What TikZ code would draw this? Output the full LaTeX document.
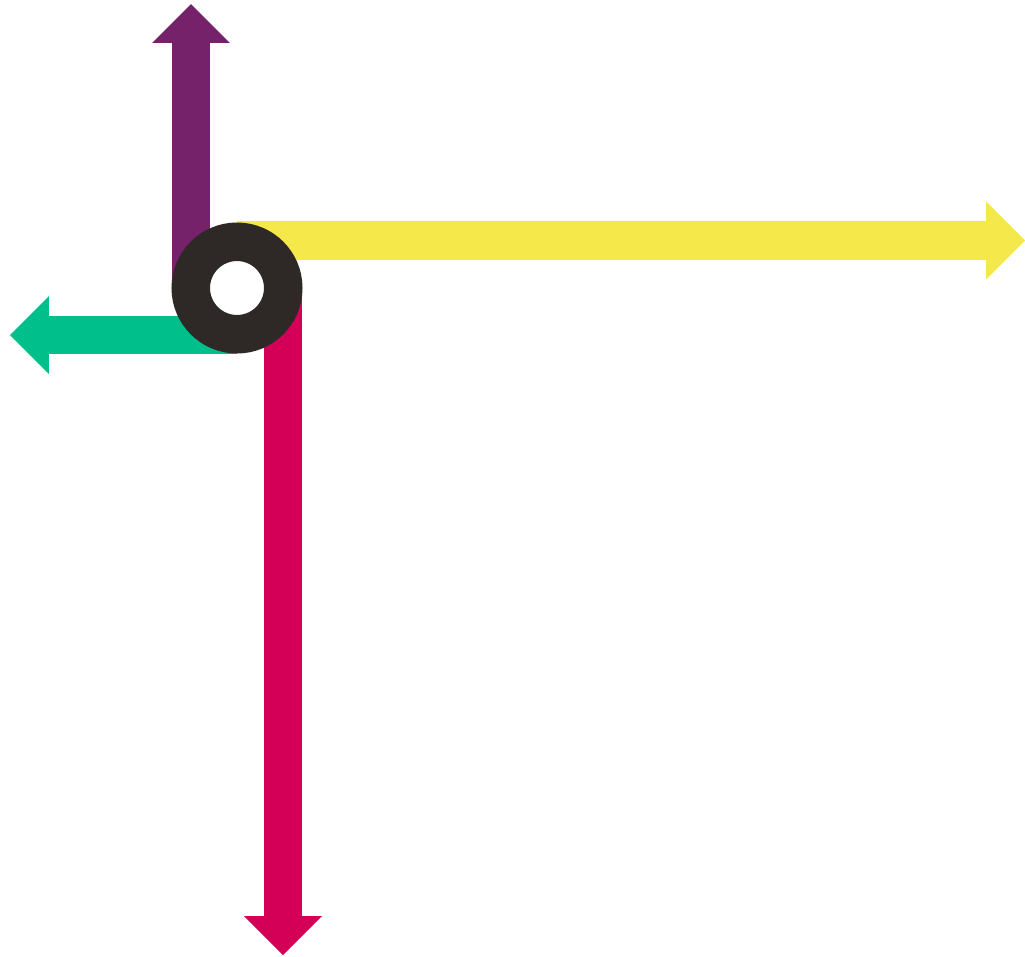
\documentclass[tikz,border=0pt]{standalone}
\usepackage{xcolor}
\usepackage{tikz}
\usetikzlibrary{arrows.meta}
\definecolor{ringblack}{HTML}{2E2926}
\definecolor{upviolet}{HTML}{76226A}
\definecolor{rightyellow}{HTML}{F5E84A}
\definecolor{leftgreen}{HTML}{00BF8B}
\definecolor{downred}{HTML}{D40057}
\tikzset{
fatarrow/.style={
line width=0.77cm,
-{Triangle[width=1.56cm,length=0.78cm,line width=0pt]}
},
ring/.style={
circle,
draw=ringblack,
line width=0.77cm,
minimum size=1.85cm,
inner sep=0pt,
outer sep=0pt
}
}
\begin{document}
\begin{tikzpicture}[x=0.02cm,y=-0.02cm]
\useasboundingbox (0,0) rectangle (1025,957);
\coordinate (hub) at (237,288);
\coordinate (upend) at (191,4);
\coordinate (rightend) at (1025,240.5);
\coordinate (leftend) at (10,335);
\coordinate (downend) at (283,955);

\draw[fatarrow,color=upviolet](hub -| upend)--(upend);
\draw[fatarrow,color=rightyellow](hub |- rightend)--(rightend);
\draw[fatarrow,color=leftgreen](hub |- leftend)--(leftend);
\draw[fatarrow,color=downred](hub -| downend)--(downend);

\node[ring](wheel) at (hub){};
\end{tikzpicture}
\end{document}
